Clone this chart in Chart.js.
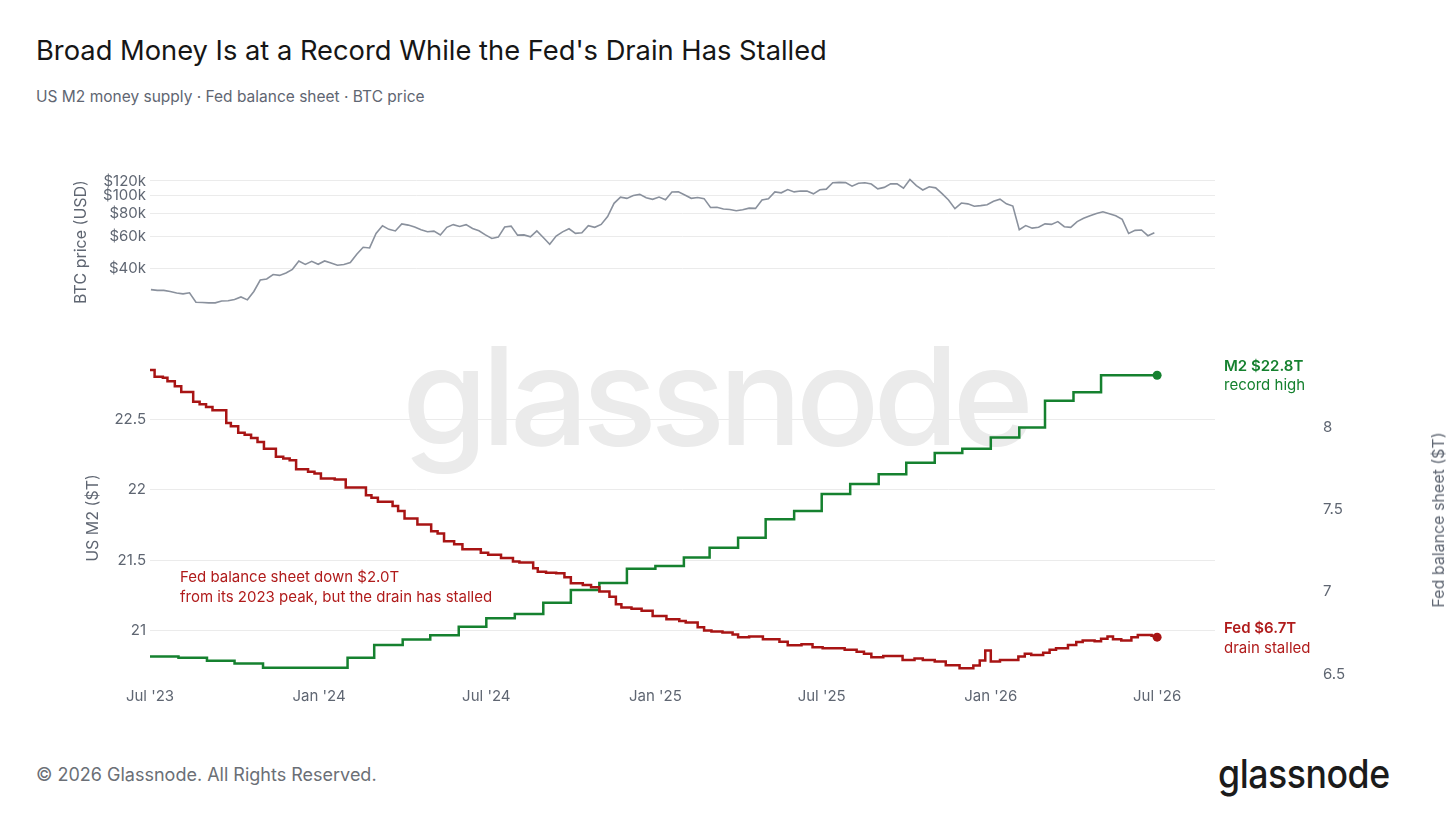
<!DOCTYPE html>
<html>
<head>
<meta charset="utf-8">
<script src="https://cdn.jsdelivr.net/npm/chart.js@4.4.1/dist/chart.umd.min.js"></script>
<style>
  html, body { margin: 0; padding: 0; background: #ffffff; }
  body { width: 1456px; height: 819px; position: relative; overflow: hidden; font-family: Inter, "Noto Sans", sans-serif; }
  .t { position: absolute; white-space: nowrap; line-height: 1; }
  #title { left: 36px; top: 36.5px; font-size: 27.3px; color: #161616; }
  #subtitle { left: 36px; top: 89px; font-size: 15.5px; color: #5f6672; }
  #footer { left: 36px; top: 766px; font-size: 18px; color: #6b6f76; }
  #logo { left: 1218px; top: 754px; font-size: 40px; color: #1b1b1b; font-weight: 500; transform-origin: 0 0; letter-spacing: -0.5px; }
  .vt { position: absolute; white-space: nowrap; line-height: 1; font-size: 16px; color: #5f6672; transform: translate(-50%, -50%) rotate(-90deg); }
  canvas { position: absolute; left: 0; }
  #cBtc { top: 150px; }
  #cMain { top: 330px; }
</style>
</head>
<body>
<div class="t" id="title">Broad Money Is at a Record While the Fed's Drain Has Stalled</div>
<div class="t" id="subtitle">US M2 money supply · Fed balance sheet · BTC price</div>

<canvas id="cMain" width="1456" height="400"></canvas>
<canvas id="cBtc" width="1456" height="180"></canvas>

<div class="vt" style="left:80px; top:242px;">BTC price (USD)</div>
<div class="vt" style="left:92px; top:518px;">US M2 ($T)</div>
<div class="vt" style="left:1438px; top:520px;">Fed balance sheet ($T)</div>

<div class="t" id="footer">© 2026 Glassnode. All Rights Reserved.</div>
<div class="t" id="logo">glassnode</div>

<script>
// ---------------- DATA ----------------
// x axis: days since 2023-07-01
const xTickDates  = ['2023-07-01','2024-01-01','2024-07-01','2025-01-01','2025-07-01','2026-01-01','2026-07-01'];
const xTickLabels = ["Jul '23","Jan '24","Jul '24","Jan '25","Jul '25","Jan '26","Jul '26"];

// US M2 ($T), monthly
const m2Months = ['2023-07','2023-08','2023-09','2023-10','2023-11','2023-12',
                  '2024-01','2024-02','2024-03','2024-04','2024-05','2024-06',
                  '2024-07','2024-08','2024-09','2024-10','2024-11','2024-12',
                  '2025-01','2025-02','2025-03','2025-04','2025-05','2025-06',
                  '2025-07','2025-08','2025-09','2025-10','2025-11','2025-12',
                  '2026-01','2026-02','2026-03','2026-04','2026-05','2026-06','2026-07'];
const m2Values = [20.82,20.81,20.79,20.77,20.74,20.74,
                  20.74,20.81,20.90,20.94,20.97,21.03,
                  21.09,21.12,21.20,21.29,21.34,21.44,
                  21.46,21.52,21.59,21.66,21.79,21.85,
                  21.97,22.04,22.11,22.19,22.26,22.29,
                  22.37,22.44,22.63,22.69,22.81,22.81,22.81];

// Fed balance sheet ($T): day (since 2023-07-01) of each weekly change, and new level
const fedDays = [0,5,14,19,27,34,47,54,61,68,
                 83,88,96,103,110,117,124,137,145,152,
                 159,172,179,186,201,213,235,241,248,264,
                 270,277,291,306,313,320,331,340,360,368,
                 382,395,402,417,422,431,442,451,458,471,
                 480,489,500,507,513,524,535,547,562,576,
                 583,596,603,611,623,634,640,652,667,685,
                 694,709,721,732,756,769,777,785,798,819,
                 832,841,854,866,881,896,903,909,915,925,
                 945,952,959,972,979,986,999,1008,1015,1028,
                 1035,1042,1048,1057,1068,1075,1090,1096];
const fedValues = [8.347,8.306,8.300,8.279,8.249,8.214,8.154,8.139,8.123,8.103,
                   8.026,8.006,7.966,7.955,7.935,7.911,7.870,7.820,7.810,7.799,
                   7.745,7.729,7.719,7.688,7.682,7.634,7.587,7.571,7.547,7.522,
                   7.492,7.445,7.409,7.368,7.354,7.307,7.289,7.259,7.238,7.226,
                   7.206,7.184,7.178,7.144,7.123,7.117,7.113,7.089,7.053,7.042,
                   7.028,7.002,6.971,6.925,6.905,6.897,6.886,6.854,6.834,6.824,
                   6.814,6.786,6.765,6.759,6.753,6.741,6.725,6.729,6.713,6.698,
                   6.676,6.682,6.664,6.658,6.648,6.637,6.624,6.603,6.611,6.587,
                   6.595,6.587,6.577,6.555,6.537,6.553,6.583,6.644,6.577,6.587,
                   6.607,6.624,6.617,6.631,6.648,6.658,6.678,6.695,6.705,6.701,
                   6.715,6.729,6.713,6.705,6.725,6.739,6.733,6.725];

// BTC price ($k), weekly samples starting 2023-07-02
const btcStartDate = '2023-07-02';
const btcStepDays = 7;
const btcValues = [30.6,30.3,30.3,29.9,29.3,29.0,29.4,26.1,26.0,25.9,
                   25.9,26.5,26.6,27.0,27.9,26.9,29.9,34.5,35.0,37.0,
                   36.6,37.7,39.5,43.8,42.0,43.7,42.1,43.9,42.8,41.6,
                   42.0,43.0,47.8,52.1,51.7,62.0,68.3,65.3,64.0,69.9,
                   68.9,67.2,64.9,63.4,63.9,60.8,67.0,69.3,67.7,69.3,
                   66.0,64.2,60.9,58.2,59.2,67.2,68.0,60.7,60.9,59.4,
                   64.1,58.9,54.1,60.0,63.3,65.8,62.1,62.6,68.4,67.0,
                   69.5,76.7,90.6,98.0,96.4,99.9,101.4,97.2,95.3,98.1,
                   94.7,104.5,104.7,100.6,96.5,97.5,96.1,86.0,86.2,84.3,
                   83.8,82.6,83.5,85.3,85.0,94.6,96.0,104.6,103.4,107.8,
                   104.6,105.7,105.9,102.1,107.4,108.3,117.5,117.9,117.6,112.5,
                   116.7,117.4,115.5,108.8,110.7,115.9,115.7,109.6,122.3,113.2,
                   107.2,111.6,110.1,102.3,94.5,84.7,90.9,90.0,87.3,88.0,
                   89.0,93.0,95.5,90.0,87.5,65.0,68.5,66.3,67.0,70.0,
                   69.5,72.0,67.5,67.0,72.0,75.0,77.5,79.8,81.5,79.5,
                   77.5,74.0,62.0,64.5,64.8,60.3,62.5];

// tick values
const m2Ticks  = [21, 21.5, 22, 22.5];
const fedTicks = [6.5, 7, 7.5, 8];
const btcTicks = [40, 60, 80, 100, 120];

// ---------------- HELPERS ----------------
const T0 = Date.UTC(2023, 6, 1);
const DAYMS = 86400000;
const dayOf = s => Math.round((Date.parse(s.length === 7 ? s + '-01' : s) - T0) / DAYMS);

const GREEN = '#15812f', RED = '#a81414', RED_TXT = '#b01b1b', GREEN_TXT = '#15812f';
const BTC_C = '#8a919d', TICK_C = '#5f6672', GRID_C = '#ebebeb';
const FONT = { family: 'Inter, "Noto Sans", sans-serif', size: 15 };

Chart.defaults.font.family = FONT.family;
Chart.defaults.color = TICK_C;

const X_MIN = 0, X_MAX = 1159;

const m2Data  = m2Months.map((m, i) => ({ x: dayOf(m), y: m2Values[i] }));
const fedData = fedDays.map((d, i) => ({ x: d, y: fedValues[i] }));
const btcStart = dayOf(btcStartDate);
const btcData = btcValues.map((v, i) => ({ x: btcStart + i * btcStepDays, y: v }));

const setTicks = arr => s => { s.ticks = arr.map(v => ({ value: v })); };

// ---------------- BTC PANEL ----------------
new Chart(document.getElementById('cBtc'), {
  type: 'line',
  data: { datasets: [{ data: btcData, borderColor: BTC_C, borderWidth: 1.6, pointRadius: 0, tension: 0, fill: false }] },
  options: {
    responsive: false, animation: false, events: [],
    layout: { padding: { top: 25, bottom: 22, left: 0, right: 241 } },
    plugins: { legend: { display: false }, tooltip: { enabled: false } },
    scales: {
      x: { type: 'linear', min: X_MIN, max: X_MAX, display: false },
      y: {
        type: 'logarithmic', min: 24.28, max: 129.4, bounds: 'data',
        afterBuildTicks: setTicks(btcTicks),
        afterFit: s => { s.width = 150; },
        grid: { color: GRID_C, drawTicks: false, lineWidth: 1 },
        border: { display: false },
        ticks: { autoSkip: false, padding: 4, font: FONT, color: TICK_C, callback: v => '$' + v + 'k' }
      }
    }
  }
});

// ---------------- MAIN PANEL ----------------
const watermark = {
  id: 'watermark',
  beforeDraw(chart) {
    const ctx = chart.ctx;
    const sx = 1.02, target = 632;
    ctx.save();
    ctx.font = '500 136px Inter, "Noto Sans", sans-serif';
    const w = ctx.measureText('glassnode').width;
    const hasLS = ('letterSpacing' in ctx);
    const ls = (target / sx - w) / 8;
    if (hasLS) ctx.letterSpacing = ls + 'px';
    const w2 = hasLS ? w + 8 * ls : w;
    ctx.translate(402, 115);
    ctx.scale(target / w2, 1);
    ctx.fillStyle = '#ebebeb';
    ctx.textBaseline = 'alphabetic';
    ctx.textAlign = 'left';
    ctx.fillText('glassnode', 0, 0);
    ctx.restore();
  }
};

const notes = {
  id: 'notes',
  afterDatasetsDraw(chart) {
    const { ctx, chartArea, scales } = chart;
    const m2 = scales.m2, fed = scales.fed;
    ctx.save();
    ctx.textAlign = 'left';
    ctx.textBaseline = 'middle';
    ctx.fillStyle = RED_TXT;
    ctx.font = '15px Inter, "Noto Sans", sans-serif';
    const ny = m2.getPixelForValue(21.377);
    ctx.fillText('Fed balance sheet down $2.0T', chartArea.left + 30, ny);
    ctx.fillText('from its 2023 peak, but the drain has stalled', chartArea.left + 30, ny + 20);
    const lx = chartArea.right + 9;
    const m2Last = m2Values[m2Values.length - 1];
    const fedLast = fedValues[fedValues.length - 1];
    const my = m2.getPixelForValue(m2Last);
    ctx.fillStyle = GREEN_TXT;
    ctx.font = '600 15px Inter, "Noto Sans", sans-serif';
    ctx.fillText('M2 $' + m2Last.toFixed(1) + 'T', lx, my - 9);
    ctx.font = '15px Inter, "Noto Sans", sans-serif';
    ctx.fillText('record high', lx, my + 10.5);
    const fy = fed.getPixelForValue(fedLast);
    ctx.fillStyle = RED_TXT;
    ctx.font = '600 15px Inter, "Noto Sans", sans-serif';
    ctx.fillText('Fed $' + fedLast.toFixed(1) + 'T', lx, fy - 9);
    ctx.font = '15px Inter, "Noto Sans", sans-serif';
    ctx.fillText('drain stalled', lx, fy + 11);
    ctx.restore();
  }
};

const lastDot = n => c => (c.dataIndex === n - 1 ? 4.5 : 0);

new Chart(document.getElementById('cMain'), {
  type: 'line',
  data: {
    datasets: [
      { label: 'Fed', data: fedData, yAxisID: 'fed', borderColor: RED, backgroundColor: RED,
        borderWidth: 2.5, stepped: true, fill: false, order: 0,
        pointRadius: lastDot(fedData.length), pointBorderWidth: 0, pointBackgroundColor: RED },
      { label: 'M2', data: m2Data, yAxisID: 'm2', borderColor: GREEN, backgroundColor: GREEN,
        borderWidth: 2.5, stepped: true, fill: false, order: 1,
        pointRadius: lastDot(m2Data.length), pointBorderWidth: 0, pointBackgroundColor: GREEN }
    ]
  },
  options: {
    responsive: false, animation: false, events: [],
    layout: { padding: { top: 19, bottom: 0, left: 0, right: 0 } },
    plugins: { legend: { display: false }, tooltip: { enabled: false } },
    scales: {
      x: {
        type: 'linear', min: X_MIN, max: X_MAX, bounds: 'data',
        afterBuildTicks: s => { s.ticks = xTickDates.map(d => ({ value: dayOf(d) })); },
        afterFit: s => { s.height = 50; },
        grid: { display: false, drawTicks: false },
        border: { display: false },
        ticks: { autoSkip: false, maxRotation: 0, padding: 7, font: FONT, color: TICK_C,
                 callback: (v, i) => xTickLabels[i] }
      },
      m2: {
        type: 'linear', position: 'left', min: 20.653, max: 22.996, bounds: 'data',
        afterBuildTicks: setTicks(m2Ticks),
        afterFit: s => { s.width = 150; s.paddingTop = 0; s.paddingBottom = 0; },
        grid: { color: GRID_C, drawTicks: false },
        border: { display: false },
        ticks: { autoSkip: false, padding: 4, font: FONT, color: TICK_C, callback: v => String(v) }
      },
      fed: {
        type: 'linear', position: 'right', min: 6.465, max: 8.475, bounds: 'data',
        afterBuildTicks: setTicks(fedTicks),
        afterFit: s => { s.width = 241; s.paddingTop = 0; s.paddingBottom = 0; },
        grid: { display: false, drawTicks: false },
        border: { display: false },
        ticks: { autoSkip: false, padding: 108, font: FONT, color: TICK_C, callback: v => String(v) }
      }
    }
  },
  plugins: [watermark, notes]
});

// footer logo: fit to reference width
const logo = document.getElementById('logo');
logo.style.transform = 'scaleX(' + (172 / logo.offsetWidth) + ')';
</script>
</body>
</html>
